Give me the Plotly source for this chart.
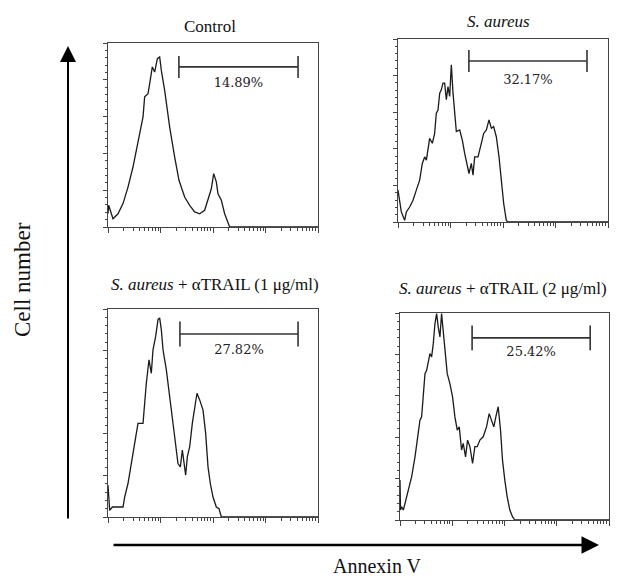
import plotly.graph_objects as go

# ---- data (log10 Annexin V position, relative cell count) ----
ctrl_log = [0.0, 0.013, 0.095, 0.19, 0.286, 0.381, 0.476, 0.571, 0.667, 0.698, 0.762, 0.794, 0.844, 0.889,
            0.94, 0.984, 1.016, 1.079, 1.175, 1.27, 1.352, 1.46, 1.556, 1.651, 1.746, 1.841, 1.905, 1.968,
            2.013, 2.063, 2.095, 2.159, 2.222, 2.286, 2.317, 4.0]
ctrl_cnt = [7.2, 11.8, 4.5, 7.2, 12.7, 21.7, 32.6, 47.1, 59.8, 70.7, 72.5, 77.9, 87.0, 84.2,
            91.5, 92.4, 85.1, 74.3, 54.3, 38.0, 25.4, 16.3, 11.8, 8.2, 7.2, 9.1, 14.5, 20.8,
            29.0, 24.5, 18.1, 14.5, 7.2, 2.7, 0.0, 0.0]

sa_log = [0.0, 0.032, 0.063, 0.127, 0.159, 0.222, 0.286, 0.349, 0.413, 0.463, 0.508, 0.54, 0.571, 0.603,
          0.654, 0.698, 0.73, 0.762, 0.794, 0.825, 0.857, 0.889, 0.921, 0.952, 0.984, 1.016, 1.048, 1.079,
          1.111, 1.175, 1.225, 1.27, 1.314, 1.352, 1.397, 1.429, 1.46, 1.524, 1.587, 1.632, 1.683, 1.733,
          1.778, 1.822, 1.873, 1.924, 1.968, 2.013, 2.063, 2.095, 4.0]
sa_cnt = [17.4, 11.9, 5.5, 0.9, 5.5, 8.2, 11.9, 17.4, 22.9, 32.0, 35.6, 33.8, 41.1, 45.7,
          43.0, 48.4, 59.4, 61.2, 70.4, 72.2, 75.9, 75.9, 66.8, 74.0, 68.6, 85.9, 70.4, 59.4,
          49.4, 50.3, 44.8, 37.5, 32.0, 26.5, 32.0, 25.6, 35.6, 35.6, 43.0, 48.4, 50.3, 55.8,
          51.2, 52.1, 46.6, 35.6, 22.9, 10.1, 0.9, 0.0, 0.0]

tr1_log = [0.0, 0.032, 0.083, 0.159, 0.286, 0.317, 0.381, 0.444, 0.508, 0.571, 0.667, 0.698, 0.73, 0.781,
           0.825, 0.857, 0.908, 0.952, 0.984, 1.016, 1.048, 1.111, 1.162, 1.206, 1.27, 1.333, 1.378, 1.416,
           1.448, 1.479, 1.511, 1.556, 1.606, 1.651, 1.695, 1.746, 1.81, 1.86, 1.905, 1.949, 2.0, 2.063,
           2.114, 2.159, 4.0]
tr1_cnt = [15.3, 3.2, 4.8, 4.8, 4.8, 9.6, 16.1, 25.7, 35.4, 45.0, 45.0, 54.7, 64.3, 75.6,
           69.1, 80.4, 86.8, 94.9, 95.7, 90.0, 80.4, 70.7, 61.1, 51.4, 38.6, 25.7, 24.1, 32.2,
           25.7, 20.1, 28.9, 33.8, 45.0, 53.1, 59.5, 56.3, 51.4, 40.2, 24.1, 16.1, 9.6, 4.8,
           4.0, 0.0, 0.0]

tr2_log = [0.0, 0.01, 0.032, 0.064, 0.096, 0.159, 0.223, 0.287, 0.35, 0.382, 0.414, 0.446, 0.478, 0.51,
           0.541, 0.573, 0.605, 0.637, 0.669, 0.701, 0.732, 0.764, 0.796, 0.828, 0.86, 0.904, 0.955,
           1.006, 1.051, 1.096, 1.134, 1.178, 1.21, 1.255, 1.293, 1.338, 1.389, 1.433, 1.478, 1.529,
           1.592, 1.656, 1.707, 1.752, 1.796, 1.834, 1.879, 1.924, 1.962, 2.006, 2.051, 2.102, 2.153,
           2.197, 4.0]
tr2_cnt = [19.3, 4.8, 6.4, 4.8, 8.0, 14.5, 20.9, 30.5, 43.4, 48.2, 49.8, 62.7, 70.7, 72.3,
           77.2, 80.4, 78.8, 85.2, 94.9, 99.7, 93.2, 88.4, 99.7, 90.0, 82.0, 70.7, 65.9,
           59.5, 49.8, 43.4, 45.0, 33.8, 37.0, 30.5, 38.6, 35.4, 27.3, 35.4, 35.4, 38.6,
           40.2, 45.0, 51.4, 48.2, 45.0, 49.8, 54.7, 43.4, 28.9, 19.3, 11.3, 4.8, 1.6,
           0.0, 0.0]

panel_titles = ["Control", "<i>S. aureus</i>",
                "<i>S. aureus</i> + αTRAIL (1 μg/ml)", "<i>S. aureus</i> + αTRAIL (2 μg/ml)"]
gate_labels = ["14.89%", "32.17%", "27.82%", "25.42%"]
gate_lo_log = [1.35, 1.35, 1.37, 1.38]
gate_hi_log = [3.62, 3.60, 3.62, 3.64]

logs = [ctrl_log, sa_log, tr1_log, tr2_log]
cnts = [ctrl_cnt, sa_cnt, tr1_cnt, tr2_cnt]

W, H = 632, 579
# panel boxes in pixels: left, right, top, bottom
boxes = [(108, 318, 43, 227), (398, 608, 39, 222), (108, 318, 309, 517), (400, 609, 313, 520)]
title_pos = [(210, 27), (498, 21), (215, 284), (503, 288)]
gate_y = [87, 88, 88, 88]
label_y = [78, 77, 80, 81]

fig = go.Figure()
for i in range(4):
    xa = "x" if i == 0 else f"x{i+1}"
    ya = "y" if i == 0 else f"y{i+1}"
    fig.add_trace(go.Scatter(x=[10 ** v for v in logs[i]], y=cnts[i], mode="lines",
                             line=dict(color="#1a1a1a", width=1.3), xaxis=xa, yaxis=ya,
                             showlegend=False, hoverinfo="skip"))
    lo, hi = 10 ** gate_lo_log[i], 10 ** gate_hi_log[i]
    gy = gate_y[i]
    fig.add_trace(go.Scatter(x=[lo, hi, None, lo, lo, None, hi, hi],
                             y=[gy, gy, None, gy - 6, gy + 6, None, gy - 6, gy + 6],
                             mode="lines", line=dict(color="#333", width=1.6),
                             xaxis=xa, yaxis=ya, showlegend=False, hoverinfo="skip"))
    fig.add_trace(go.Scatter(x=[10 ** ((gate_lo_log[i] + gate_hi_log[i]) / 2)], y=[label_y[i]],
                             mode="text", text=[gate_labels[i]],
                             textfont=dict(family="DejaVu Serif", size=13, color="#222"),
                             xaxis=xa, yaxis=ya, showlegend=False, hoverinfo="skip"))
    l, r, t, b = boxes[i]
    axn = "" if i == 0 else str(i + 1)
    fig.layout["xaxis" + axn] = dict(type="log", range=[0, 4], domain=[l / W, r / W], anchor=ya,
                                      showgrid=False, zeroline=False, showticklabels=False,
                                      showline=True, mirror=True, linecolor="#444", linewidth=1.2,
                                      ticks="outside", dtick=1, ticklen=5, tickcolor="#444",
                                      minor=dict(dtick="D1", ticks="outside", ticklen=3, tickcolor="#444"))
    fig.layout["yaxis" + axn] = dict(range=[0, 100], domain=[1 - b / H, 1 - t / H], anchor=xa,
                                      showgrid=False, zeroline=False, showticklabels=False,
                                      showline=True, mirror=True, linecolor="#444", linewidth=1.2,
                                      ticks="outside", dtick=20, ticklen=4, tickcolor="#444",
                                      minor=dict(dtick=4, ticks="outside", ticklen=2, tickcolor="#444"))
    tx, ty = title_pos[i]
    fig.add_annotation(x=tx / W, y=1 - ty / H, xref="paper", yref="paper", text=panel_titles[i],
                       xanchor="center", yanchor="middle", showarrow=False,
                       font=dict(family="Liberation Serif", size=17, color="#111"))

# big axis arrows
fig.add_annotation(x=68 / W, y=1 - 46 / H, xref="paper", yref="paper", ax=0, ay=474,
                   showarrow=True, arrowhead=2, arrowsize=1.6, arrowwidth=2, arrowcolor="#000", text="")
fig.add_annotation(x=599 / W, y=1 - 545 / H, xref="paper", yref="paper", ax=-487, ay=0,
                   showarrow=True, arrowhead=2, arrowsize=1.4, arrowwidth=2.5, arrowcolor="#000", text="")
fig.add_annotation(x=22 / W, y=1 - 280 / H, xref="paper", yref="paper", text="Cell number",
                   textangle=-90, showarrow=False, xanchor="center", yanchor="middle",
                   font=dict(family="Liberation Serif", size=23, color="#111"))
fig.add_annotation(x=377 / W, y=1 - 566 / H, xref="paper", yref="paper", text="Annexin V",
                   showarrow=False, xanchor="center", yanchor="middle",
                   font=dict(family="Liberation Serif", size=20, color="#111"))

fig.update_layout(width=W, height=H, margin=dict(l=0, r=0, t=0, b=0),
                  paper_bgcolor="white", plot_bgcolor="white")
fig.write_html("out.html", config={"displayModeBar": False},
               post_script="document.body.style.margin='0px';")
